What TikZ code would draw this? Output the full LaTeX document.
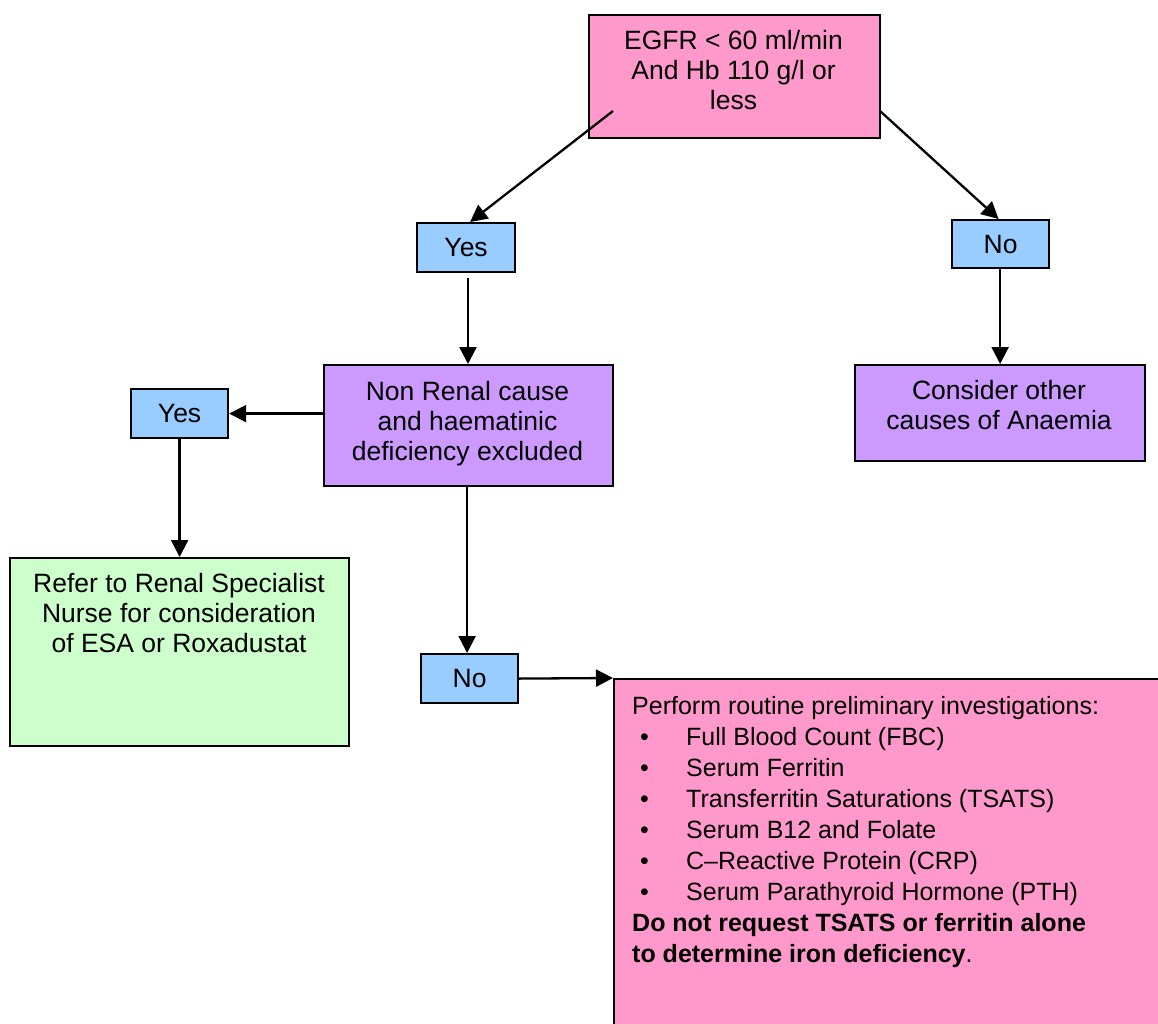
\documentclass[tikz,border=0pt]{standalone}
\usepackage{fontspec}
\setmainfont{Liberation Sans}
\usetikzlibrary{arrows.meta}
\definecolor{pinkbox}{HTML}{FF99CC}
\definecolor{bluebox}{HTML}{99CCFF}
\definecolor{purplebox}{HTML}{CC99FF}
\definecolor{greenbox}{HTML}{CCFFCC}
\tikzset{
  box/.style={draw=black, line width=2.2pt, inner sep=0pt, anchor=north west, align=center,
    font=\fontsize{26.5}{30}\selectfont},
  txt/.style={inner sep=0pt, anchor=north, align=center, font=\fontsize{26.5}{30}\selectfont},
  arr/.style={line width=2.3pt, -{Triangle[length=17pt 0,width=17pt 0]}},
}
\begin{document}
\begin{tikzpicture}[x=1pt,y=-1pt]
\clip (0,0) rectangle (1158,1024);
\fill[white] (0,0) rectangle (1158,1024);

% boxes
\node[box, fill=pinkbox, minimum width=291, minimum height=123] (top) at (588,14) {};
\node[txt] (toptext) at (733.5,30.5) {EGFR < 60 ml/min\\And Hb 110 g/l or\\less};
\node[box, fill=bluebox, minimum width=98, minimum height=49] (yes1) at (416,222) {Yes};
\node[box, fill=bluebox, minimum width=97, minimum height=48] (no1) at (951,219) {No};
\node[box, fill=purplebox, minimum width=289, minimum height=121] (mid) at (323,364) {};
\node[txt] (midtext) at (467.5,381.5) {Non Renal cause\\and haematinic\\deficiency excluded};
\node[box, fill=purplebox, minimum width=290, minimum height=96] (other) at (854,364) {};
\node[txt] (othertext) at (999,380.5) {Consider other\\causes of Anaemia};
\node[box, fill=bluebox, minimum width=97, minimum height=49] (yes2) at (130,388) {Yes};
\node[box, fill=greenbox, minimum width=339, minimum height=188] (green) at (9,557) {};
\node[txt] (greentext) at (179,573.5)
  {Refer to Renal Specialist\\Nurse for consideration\\of ESA or Roxadustat};
\node[box, fill=bluebox, minimum width=97, minimum height=49] (no2) at (420,653) {No};
\node[box, fill=pinkbox, minimum width=580, minimum height=380] (inv) at (613,678) {};
\node[txt, anchor=north west, align=left, font=\fontsize{25}{31}\selectfont] (invtext) at (632,696)
  {Perform routine preliminary investigations:\\
   \makebox[54pt][l]{\hspace*{8pt}\textbullet}Full Blood Count (FBC)\\
   \makebox[54pt][l]{\hspace*{8pt}\textbullet}Serum Ferritin\\
   \makebox[54pt][l]{\hspace*{8pt}\textbullet}Transferritin Saturations (TSATS)\\
   \makebox[54pt][l]{\hspace*{8pt}\textbullet}Serum B12 and Folate\\
   \makebox[54pt][l]{\hspace*{8pt}\textbullet}C–Reactive Protein (CRP)\\
   \makebox[54pt][l]{\hspace*{8pt}\textbullet}Serum Parathyroid Hormone (PTH)\\
   \textbf{Do not request TSATS or ferritin alone}\\
   \textbf{to determine iron deficiency}.};

% connector start points
\coordinate (topL) at (613,111);
\coordinate (topR) at (880,111);
\coordinate (yes1out) at (468,278);

% connectors
\draw[arr] (topL) -- ([xshift=4pt]yes1.north);
\draw[arr] (topR) -- ([xshift=-2pt]no1.north);
\draw[arr] (yes1out) -- (yes1out |- mid.north);
\draw[arr] ([xshift=-0.5pt]no1.south) -- ([xshift=-0.5pt]no1.south |- other.north);
\draw[arr] (mid.west |- yes2.east) -- (yes2.east);
\draw[arr] (yes2.south) -- (yes2.south |- green.north);
\draw[arr] ([xshift=-1.5pt]mid.south) -- ([xshift=-1.5pt]mid.south |- no2.north);
\draw[arr] (no2.east) -- (inv.north west);
\end{tikzpicture}
\end{document}
